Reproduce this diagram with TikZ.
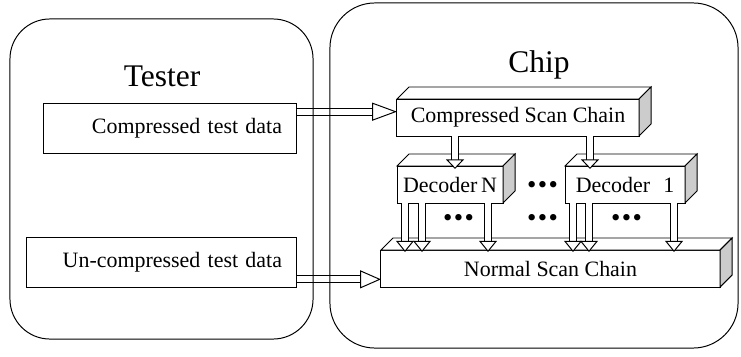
\documentclass[tikz,border=0pt]{standalone}
\usepackage{fontspec}
\setmainfont{Liberation Serif}
\usetikzlibrary{arrows.meta,calc}

\begin{document}
\begin{tikzpicture}[x=0.025cm,y=-0.025cm,line width=0.7pt,
    font=\fontsize{15.6}{18}\selectfont,
    databox/.style={draw,fill=white,minimum height=1.25cm,inner xsep=0.35cm,align=right},
    chainbox/.style={draw,fill=white,outer sep=0pt,inner sep=0pt,minimum height=0.925cm},
    hollow/.style={draw=white,-{Triangle[color=black,fill=white,length=#1,width=0.45cm]},
        preaction={draw=black,double=white,double distance=0.15cm,arrows=-,shorten >=#1-0.3pt}},
    hollow/.default=0.28cm,
    dots/.style={inner sep=0pt,font=\fontsize{19}{22}\selectfont}]
    \useasboundingbox (0,0) rectangle (741,356);
    \node[font=\fontsize{22.4}{26}\selectfont,anchor=base] (testerlbl) at (162,86) {Tester};
    \node[font=\fontsize{22.4}{26}\selectfont,anchor=base] (chiplbl) at (539,72) {Chip};
    \node[databox,minimum width=6.3cm,text width=5.6cm] (cdata) at (170,128) {Compressed test data};
    \node[databox,minimum width=6.725cm,text width=6.025cm] (udata) at (161.5,262) {Un-compressed test data};
    % scan chains and decoders, front faces first
    \node[chainbox,minimum width=6.05cm] (csc) at (518,117.5) {Compressed Scan Chain};
    \node[chainbox,minimum width=2.65cm] (decN) at (450,184.5) {Decoder\,N};
    \node[chainbox,minimum width=3cm] (dec1) at (625,184.5) {Decoder\hspace{0.6em}1\hspace{0.4em}};
    \node[chainbox,minimum width=8.475cm] (nsc) at (550.5,268.5) {Normal Scan Chain};
    \foreach \b in {csc,decN,dec1,nsc}{
        \draw[fill=white] (\b.north west) -- ++(12,-12) -- ([shift={(12,-12)}]\b.north east) -- (\b.north east) -- cycle;
        \draw[fill=gray!40] (\b.north east) -- ++(12,-12) -- ([shift={(12,-12)}]\b.south east) -- (\b.south east) -- cycle;
    }
    \node[dots] (dots0) at (542.5,187.5) {\textbullet\hspace{0.05em}\textbullet\hspace{0.05em}\textbullet};
    \node[dots] (dots1) at (458.5,220) {\textbullet\hspace{0.05em}\textbullet\hspace{0.05em}\textbullet};
    \node[dots] (dots2) at (542.5,220) {\textbullet\hspace{0.05em}\textbullet\hspace{0.05em}\textbullet};
    \node[dots] (dots3) at (626.5,220) {\textbullet\hspace{0.05em}\textbullet\hspace{0.05em}\textbullet};
    % arrows
    \coordinate (cout) at ($(cdata.north east)!0.18!(cdata.south east)$);
    \coordinate (uout) at ($(udata.north east)!0.84!(udata.south east)$);
    \draw[hollow=0.62cm] (cout) -- (cout -| csc.west);
    \draw[hollow=0.52cm] (uout) -- (uout -| nsc.west);
    \draw[hollow=0.24cm] ([xshift=0.125cm]decN.north |- csc.south) -- ([xshift=0.125cm,yshift=-0.075cm]decN.north);
    \draw[hollow=0.24cm] ([xshift=0.625cm]dec1.north west |- csc.south) -- ([xshift=0.625cm,yshift=-0.075cm]dec1.north west);
    \foreach \d/\o in {decN/0.2,decN/0.625,decN/2.275,dec1/0.2,dec1/0.6,dec1/2.725}
        \draw[hollow] ([xshift=\o cm]\d.south west) -- ([xshift=\o cm,yshift=-0.05cm]\d.south west |- nsc.north);
    % tester and chip
    \node[draw,rounded corners=1cm,minimum width=7.575cm,minimum height=8cm] (tester) at (161.5,179) {};
    \node[draw,rounded corners=1.125cm,minimum width=10.2cm,minimum height=8.625cm] (chip) at (534,175.5) {};
\end{tikzpicture}
\end{document}
